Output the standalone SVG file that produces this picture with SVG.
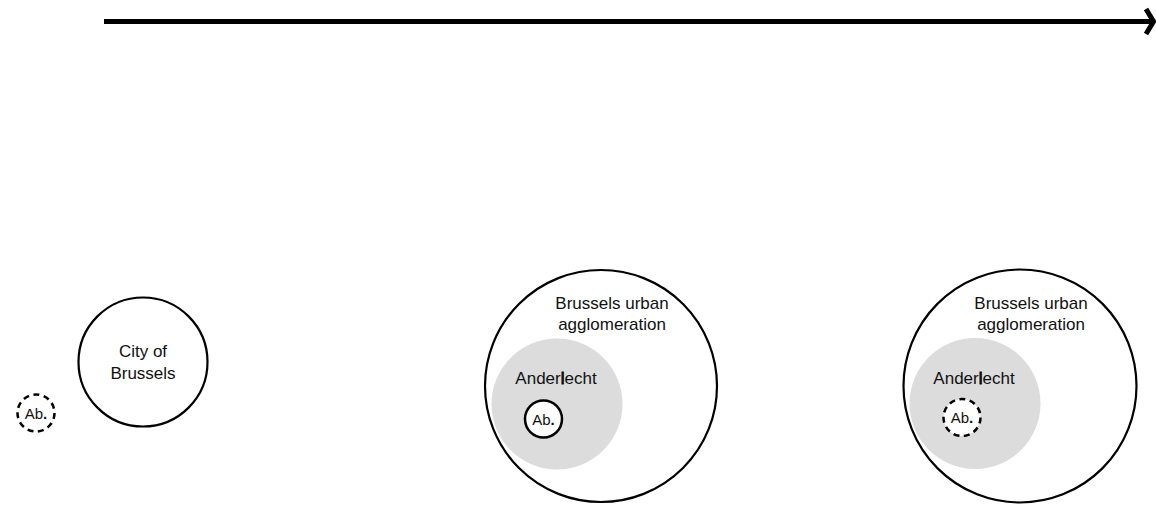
<svg xmlns="http://www.w3.org/2000/svg" width="1156" height="509" viewBox="0 0 1156 509">
  <style>
    text { font-family: "Liberation Sans", Arial, Helvetica, sans-serif; fill: #111; text-anchor: middle; }
    .lbl { font-size: 17px; }
    .ab { font-size: 15px; }
    .ring { fill: #fff; stroke: #000; stroke-width: 2.2; }
    .dash { fill: #fff; stroke: #000; stroke-width: 2.5; stroke-dasharray: 6 4.5; }
    .solid { fill: #fff; stroke: #000; stroke-width: 2.5; }
    .grey { fill: #dcdcdc; stroke: none; }
    .axis { stroke: #000; stroke-width: 5; fill: none; }
  </style>

  <g id="connectors">
    <line class="axis" x1="104" y1="21.5" x2="1151" y2="21.5"/>
    <polyline class="axis" stroke-width="4" points="1146,9 1153.5,21.5 1146,34" stroke-linejoin="miter"/>
  </g>

  <g id="ab-outside">
    <circle class="dash" cx="36" cy="413" r="18.5"/>
    <text class="ab" x="36" y="418.5">Ab<tspan font-weight="bold">.</tspan></text>
  </g>

  <g id="city-of-brussels">
    <circle class="ring" cx="143" cy="362" r="64.5"/>
    <text class="lbl" x="143" y="357">City of</text>
    <text class="lbl" x="143" y="379">Brussels</text>
  </g>

  <g id="agglomeration-1">
    <circle class="ring" cx="601" cy="386" r="116"/>
    <text class="lbl" x="612" y="309">Brussels urban</text>
    <text class="lbl" x="612" y="330">agglomeration</text>
  </g>
  <g id="anderlecht-1">
    <circle class="grey" cx="557" cy="404" r="65.5"/>
    <text class="lbl" x="556" y="384">Ander<tspan stroke="#000" stroke-width="0.8">l</tspan>echt</text>
  </g>
  <g id="ab-inside-1">
    <circle class="solid" cx="543.5" cy="419" r="18.5"/>
    <text class="ab" x="543.5" y="424.5">Ab<tspan font-weight="bold">.</tspan></text>
  </g>

  <g id="agglomeration-2">
    <circle class="ring" cx="1020" cy="386" r="116.5"/>
    <text class="lbl" x="1031" y="309">Brussels urban</text>
    <text class="lbl" x="1031" y="330">agglomeration</text>
  </g>
  <g id="anderlecht-2">
    <circle class="grey" cx="975" cy="403.5" r="65.5"/>
    <text class="lbl" x="974" y="384">Ander<tspan stroke="#000" stroke-width="0.8">l</tspan>echt</text>
  </g>
  <g id="ab-inside-2">
    <circle class="dash" cx="962" cy="417.5" r="18.5"/>
    <text class="ab" x="962" y="423">Ab<tspan font-weight="bold">.</tspan></text>
  </g>
</svg>
